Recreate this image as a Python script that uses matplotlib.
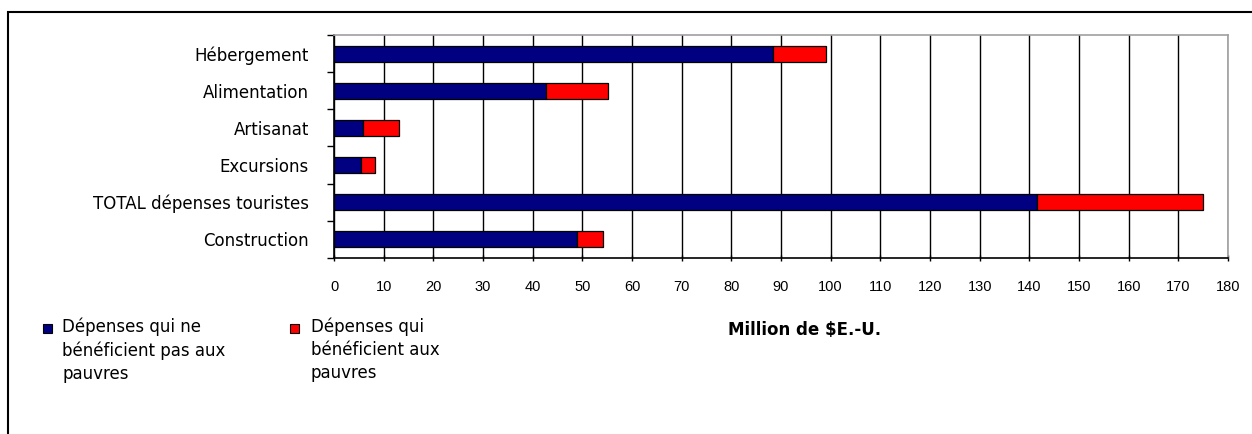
import matplotlib
matplotlib.use("Agg")
import matplotlib.pyplot as plt
from matplotlib.patches import Rectangle
import numpy as np

categories = ["Hébergement", "Alimentation", "Artisanat", "Excursions",
              "TOTAL dépenses touristes", "Construction"]
non_poor = [88.4, 42.7, 5.8, 5.4, 141.5, 48.9]
poor = [10.6, 12.5, 7.3, 2.9, 33.5, 5.3]
x_ticks = list(range(0, 181, 10))
legend_labels = ["Dépenses qui ne\nbénéficient pas aux\npauvres",
                 "Dépenses qui\nbénéficient aux\npauvres"]
x_title = "Million de $E.-U."

plt.rcParams['font.family'] = ['DejaVu Sans']

W, H = 1252, 434
fig = plt.figure(figsize=(W / 100, H / 100), dpi=100)

# outer frame (top and left visible)
fig.patches.append(Rectangle((8 / W, -0.1), 1.2, (H - 12) / H + 0.1,
                             transform=fig.transFigure, fill=False,
                             edgecolor='black', linewidth=1.5))

ax = fig.add_axes([334 / W, (H - 258) / H, 894 / W, 223 / H])
n = len(categories)
y = np.arange(n)
h = 0.43
ax.barh(y, non_poor, height=h, color='#000080', edgecolor='black', linewidth=0.9, zorder=3)
ax.barh(y, poor, left=non_poor, height=h, color='#FF0000', edgecolor='black', linewidth=0.9, zorder=3)

ax.set_xlim(0, 180)
ax.set_ylim(n - 0.5, -0.5)
ax.set_xticks(x_ticks)
ax.set_xticklabels([str(v) for v in x_ticks], fontsize=10.5, family='Liberation Sans')
ax.set_yticks(y)
ax.set_yticklabels(categories, fontsize=12)
ax.tick_params(axis='y', length=0, pad=18)
ax.set_yticks(np.arange(-0.5, n, 1), minor=True)
ax.tick_params(axis='y', which='minor', length=5, width=1, direction='out')
ax.tick_params(axis='x', length=5, width=1, direction='inout', pad=13)
ax.grid(axis='x', color='black', linewidth=1, zorder=1)
for s in ['top', 'right']:
    ax.spines[s].set_color('#A0A0A0')
    ax.spines[s].set_linewidth(1.2)
for s in ['left', 'bottom']:
    ax.spines[s].set_color('black')
    ax.spines[s].set_linewidth(1.2)

# legend
def yf(py):
    return (H - py) / H

fig.patches.append(Rectangle((43 / W, yf(333)), 9 / W, 9 / H, transform=fig.transFigure,
                             facecolor='#000080', edgecolor='black', linewidth=0.8))
fig.text(62 / W, yf(318), legend_labels[0], fontsize=12, va='top', ha='left', linespacing=1.35)
fig.patches.append(Rectangle((290 / W, yf(333)), 9 / W, 9 / H, transform=fig.transFigure,
                             facecolor='#FF0000', edgecolor='black', linewidth=0.8))
fig.text(311 / W, yf(318), legend_labels[1], fontsize=12, va='top', ha='left', linespacing=1.35)

fig.text(805 / W, yf(330), x_title, fontsize=12, fontweight='bold', ha='center', va='center')

fig.savefig("out.png", dpi=100)
